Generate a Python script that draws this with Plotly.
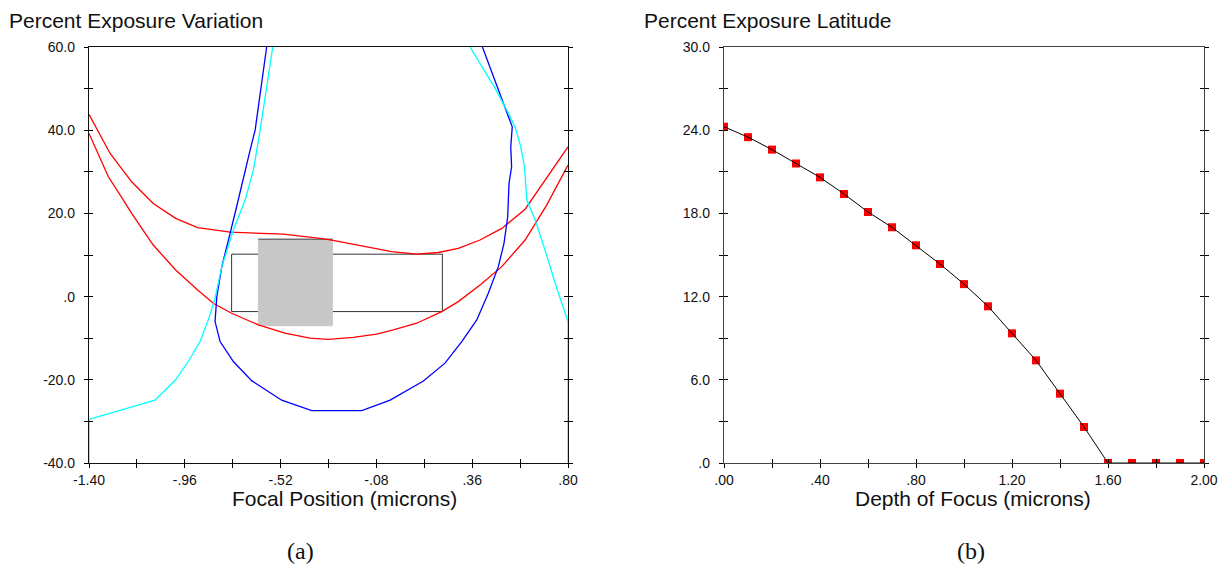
import plotly.graph_objects as go

# ---------------- Panel (a): Percent Exposure Variation vs Focal Position ----------------
red_upper_x = [-1.40, -1.303, -1.204, -1.105, -1.002, -0.901, -0.752, -0.507, -0.339, -0.285,
               -0.010, 0.105, 0.205, 0.296, 0.396, 0.496, 0.603, 0.80]
red_upper_y = [43.8, 34.4, 27.6, 22.4, 18.8, 16.6, 15.5, 15.0, 14.0, 13.6,
               10.8, 10.2, 10.6, 11.6, 13.6, 16.4, 21.0, 36.0]

red_lower_x = [-1.40, -1.311, -1.242, -1.204, -1.105, -1.002, -0.901, -0.829, -0.745, -0.622,
               -0.500, -0.385, -0.301, -0.186, -0.079, -0.002, 0.105, 0.220, 0.296, 0.396,
               0.496, 0.603, 0.702, 0.80]
red_lower_y = [39.2, 28.8, 23.2, 20.0, 12.4, 6.4, 1.6, -1.6, -4.0, -6.8,
               -8.8, -10.0, -10.3, -9.8, -9.0, -8.0, -6.4, -3.6, -1.2, 2.8,
               7.2, 13.6, 22.0, 31.6]

blue_x = [-0.584, -0.637, -0.660, -0.683, -0.714, -0.722, -0.752, -0.790, -0.813, -0.821,
          -0.798, -0.737, -0.653, -0.515, -0.377, -0.147, -0.017, 0.136, 0.235, 0.312,
          0.381, 0.434, 0.480, 0.506, 0.523, 0.526, 0.529, 0.541, 0.537, 0.544, 0.473, 0.407]
blue_y = [60.0, 40.0, 35.2, 30.4, 23.2, 21.6, 15.2, 7.2, 0.0, -6.0,
          -10.8, -15.6, -20.2, -24.9, -27.4, -27.4, -24.9, -20.3, -16.0, -10.8,
          -5.6, 0.8, 7.2, 12.8, 19.2, 23.2, 27.2, 31.2, 36.0, 40.8, 50.5, 60.0]

cyan_left_x = [-1.40, -1.40, -1.097, -1.002, -0.944, -0.890, -0.852, -0.821, -0.790, -0.737,
               -0.683, -0.645, -0.614, -0.556]
cyan_left_y = [-40.0, -29.5, -24.9, -20.0, -15.6, -10.8, -5.6, -0.4, 7.2, 16.0,
               23.2, 30.4, 40.0, 60.0]

cyan_right_x = [0.350, 0.465, 0.526, 0.557, 0.583, 0.600, 0.611, 0.649, 0.702, 0.741, 0.80, 0.80]
cyan_right_y = [60.0, 50.1, 44.1, 40.8, 36.0, 31.2, 23.2, 18.4, 10.0, 3.2, -6.0, -40.0]

# process windows (rectangles) in data units
box_x = [-0.745, 0.223]
box_y = [-3.6, 10.2]
gray_x = [-0.622, -0.282]
gray_y = [-7.0, 13.8]

a_xticks = [-1.40, -1.18, -0.96, -0.74, -0.52, -0.30, -0.08, 0.14, 0.36, 0.58, 0.80]
a_xlabels = ["-1.40", "", "-.96", "", "-.52", "", "-.08", "", ".36", "", ".80"]
a_yticks = [-40, -30, -20, -10, 0, 10, 20, 30, 40, 50, 60]
a_ylabels = ["-40.0", "", "-20.0", "", ".0", "", "20.0", "", "40.0", "", "60.0"]

# ---------------- Panel (b): Percent Exposure Latitude vs Depth of Focus ----------------
dof = [0.0, 0.1, 0.2, 0.3, 0.4, 0.5, 0.6, 0.7, 0.8, 0.9, 1.0,
       1.1, 1.2, 1.3, 1.4, 1.5, 1.6, 1.7, 1.8, 1.9, 2.0]
latitude = [24.25, 23.5, 22.6, 21.6, 20.6, 19.4, 18.1, 17.0, 15.7, 14.35, 12.9,
            11.3, 9.35, 7.4, 5.0, 2.6, 0.0, 0.0, 0.0, 0.0, 0.0]

b_xticks = [0.0, 0.2, 0.4, 0.6, 0.8, 1.0, 1.2, 1.4, 1.6, 1.8, 2.0]
b_xlabels = [".00", "", ".40", "", ".80", "", "1.20", "", "1.60", "", "2.00"]
b_yticks = [0, 3, 6, 9, 12, 15, 18, 21, 24, 27, 30]
b_ylabels = [".0", "", "6.0", "", "12.0", "", "18.0", "", "24.0", "", "30.0"]

# the page body has an 8px default margin: figure is placed at (8, 8) in the window
OFF = 8
W, H = 1232 - OFF, 568 - OFF
SANS = "Liberation Sans, Arial, sans-serif"
SERIF = "Liberation Serif, Times New Roman, serif"

def fx(px):
    return (px - OFF) / W

def fy(py):
    return 1 - (py - OFF) / H

fig = go.Figure()

lw = 1.3
fig.add_trace(go.Scatter(x=red_upper_x, y=red_upper_y, mode="lines", line=dict(color="#ff0000", width=lw),
                         xaxis="x", yaxis="y", showlegend=False))
fig.add_trace(go.Scatter(x=red_lower_x, y=red_lower_y, mode="lines", line=dict(color="#ff0000", width=lw),
                         xaxis="x", yaxis="y", showlegend=False))
fig.add_trace(go.Scatter(x=blue_x, y=blue_y, mode="lines", line=dict(color="#0000ff", width=lw),
                         xaxis="x", yaxis="y", showlegend=False))
fig.add_trace(go.Scatter(x=cyan_left_x, y=cyan_left_y, mode="lines", line=dict(color="#00ffff", width=lw),
                         xaxis="x", yaxis="y", showlegend=False))
fig.add_trace(go.Scatter(x=cyan_right_x, y=cyan_right_y, mode="lines", line=dict(color="#00ffff", width=lw),
                         xaxis="x", yaxis="y", showlegend=False))

fig.add_trace(go.Scatter(x=dof, y=latitude, mode="markers",
                         marker=dict(symbol="square", size=8, color="#ff0000", line=dict(width=0)),
                         xaxis="x2", yaxis="y2", showlegend=False))
fig.add_trace(go.Scatter(x=dof, y=latitude, mode="lines", line=dict(color="#000000", width=1),
                         xaxis="x2", yaxis="y2", showlegend=False))

# dummy traces for overlay axes (inside tick halves)
for xa, ya in [("x3", "y"), ("x", "y3"), ("x4", "y2"), ("x2", "y4")]:
    fig.add_trace(go.Scatter(x=[None], y=[None], xaxis=xa, yaxis=ya, showlegend=False, hoverinfo="skip"))

# rectangles
fig.add_shape(type="rect", xref="x", yref="y", x0=box_x[0], x1=box_x[1], y0=box_y[0], y1=box_y[1],
              line=dict(color="#333333", width=1), fillcolor="rgba(0,0,0,0)", layer="below")
fig.add_shape(type="rect", xref="x", yref="y", x0=gray_x[0], x1=gray_x[1], y0=gray_y[0], y1=gray_y[1],
              line=dict(color="#c8c8c8", width=1), fillcolor="#c8c8c8", layer="below")
fig.add_shape(type="line", xref="x", yref="y", x0=gray_x[0], x1=gray_x[1], y0=gray_y[1], y1=gray_y[1],
              line=dict(color="#444444", width=1), layer="below")

dom_a = [fx(89), fx(568)]
dom_b = [fx(724), fx(1204)]
dom_y = [fy(463), fy(47)]

tickfont = dict(family=SANS, size=14, color="#111111")

def xax(domain, rng, tv, tt, anchor, linecolor):
    return dict(domain=domain, range=rng, tickmode="array", tickvals=tv, ticktext=tt,
                ticks="outside", ticklen=4, tickwidth=1, tickcolor="#000000",
                showline=True, linecolor=linecolor, linewidth=1.3, mirror=True,
                showgrid=False, zeroline=False, anchor=anchor, tickfont=tickfont,
                automargin=False, fixedrange=True)

def yax(domain, rng, tv, tt, anchor, linecolor):
    return dict(domain=domain, range=rng, tickmode="array", tickvals=tv, ticktext=tt,
                ticks="outside", ticklen=4, tickwidth=1, tickcolor="#000000",
                showline=True, linecolor=linecolor, linewidth=1.3, mirror="ticks",
                showgrid=False, zeroline=False, anchor=anchor, tickfont=tickfont,
                ticklabelstandoff=6, automargin=False, fixedrange=True)

def xover(base, rng, tv, anchor):
    return dict(overlaying=base, range=rng, tickmode="array", tickvals=tv, ticks="inside", ticklen=4,
                tickwidth=1, tickcolor="#000000", showticklabels=False, showline=False,
                showgrid=False, zeroline=False, anchor=anchor, automargin=False, fixedrange=True)

def yover(base, rng, tv, anchor):
    return dict(overlaying=base, range=rng, tickmode="array", tickvals=tv, ticks="inside", ticklen=4,
                tickwidth=1, tickcolor="#000000", showticklabels=False, showline=False, mirror="ticks",
                showgrid=False, zeroline=False, anchor=anchor, automargin=False, fixedrange=True)

a_xr = [a_xticks[0], a_xticks[-1]]
a_yr = [a_yticks[0], a_yticks[-1]]
b_xr = [b_xticks[0], b_xticks[-1]]
b_yr = [b_yticks[0], b_yticks[-1]]

fig.update_layout(
    width=W, height=H, margin=dict(l=0, r=0, t=0, b=0, pad=0, autoexpand=False),
    paper_bgcolor="white", plot_bgcolor="white", showlegend=False,
    xaxis=xax(dom_a, a_xr, a_xticks, a_xlabels, "y", "#111111"),
    yaxis=yax(dom_y, a_yr, a_yticks, a_ylabels, "x", "#111111"),
    xaxis2=xax(dom_b, b_xr, b_xticks, b_xlabels, "y2", "#444444"),
    yaxis2=yax(dom_y, b_yr, b_yticks, b_ylabels, "x2", "#444444"),
    xaxis3=xover("x", a_xr, a_xticks, "y"),
    yaxis3=yover("y", a_yr, a_yticks, "x"),
    xaxis4=xover("x2", b_xr, b_xticks, "y2"),
    yaxis4=yover("y2", b_yr, b_yticks, "x2"),
)

def ann(text, xpx, ypx, size, family, xanchor="left", yanchor="middle"):
    fig.add_annotation(text=text, x=fx(xpx), y=fy(ypx), xref="paper", yref="paper",
                       xanchor=xanchor, yanchor=yanchor, showarrow=False, borderpad=0,
                       font=dict(family=family, size=size, color="#111111"))

ann("Percent Exposure Variation", 8, 8, 21, SANS, "left", "top")
ann("Percent Exposure Latitude", 643, 8, 21, SANS, "left", "top")
ann("Focal Position (microns)", 344, 498, 21, SANS, "center")
ann("Depth of Focus (microns)", 973, 498, 21, SANS, "center")
ann("(a)", 300, 551, 24, SERIF, "center")
ann("(b)", 971, 551, 24, SERIF, "center")

fig.write_html("out.html")
